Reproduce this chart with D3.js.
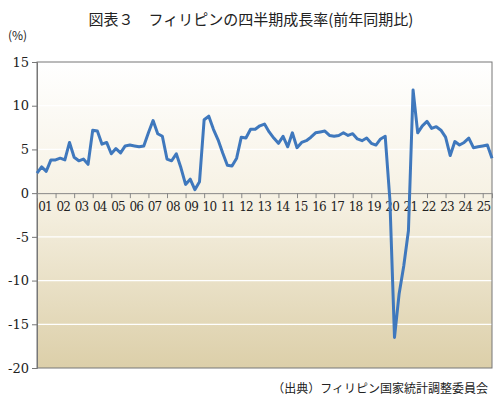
<!DOCTYPE html>
<html><head><meta charset="utf-8">
<script src="https://cdn.jsdelivr.net/npm/d3@7"></script>
<style>body{margin:0;background:#fff}</style>
</head><body>
<svg id="c" width="502" height="413"></svg>
<script>
// quarterly growth, 2001Q1 .. 2025Q3
const years = d3.range(2001, 2026)
const yearLabels = years.map(y => String(y % 100).padStart(2, "0"))
const growth = [
  2.3, 3.0, 2.5, 3.8,  3.8, 4.0, 3.8, 5.8,  4.1, 3.7, 3.9, 3.3,  7.2, 7.1, 5.6, 5.8,
  4.5, 5.1, 4.6, 5.4,  5.5, 5.4, 5.3, 5.4,  6.9, 8.3, 6.8, 6.5,  3.9, 3.7, 4.5, 2.9,
  1.0, 1.6, 0.4, 1.3,  8.4, 8.8, 7.3, 6.1,  4.6, 3.2, 3.1, 4.0,  6.4, 6.3, 7.3, 7.3,
  7.7, 7.9, 7.0, 6.3,  5.7, 6.5, 5.3, 6.9,  5.2, 5.8, 6.0, 6.4,  6.9, 7.0, 7.1, 6.6,
  6.5, 6.6, 6.9, 6.6,  6.8, 6.2, 6.0, 6.3,  5.7, 5.5, 6.2, 6.5,  -0.7, -16.5, -11.5, -8.3,
  -4.3, 11.8, 6.9, 7.7,  8.2, 7.4, 7.6, 7.2,  6.4, 4.3, 5.9, 5.5,  5.8, 6.3, 5.2, 5.3,
  5.4, 5.5, 4.0
]
const yTicks = [15, 10, 5, 0, -5, -10, -15, -20]

const svg = d3.select("#c")
const L = 37, R = 492, T = 62, B = 368

const x = d3.scaleLinear().domain([0, 98]).range([L, R])
const y = d3.scaleLinear().domain([-20, 15]).range([B, T])

const grad = svg.append("defs").append("linearGradient")
  .attr("id", "bg").attr("x1", 0).attr("y1", 0).attr("x2", 0).attr("y2", 1)
grad.append("stop").attr("offset", "0%").attr("stop-color", "#ffffff")
grad.append("stop").attr("offset", "45%").attr("stop-color", "#f6f1e3")
grad.append("stop").attr("offset", "100%").attr("stop-color", "#dccfa9")

svg.append("rect").attr("x", L).attr("y", T).attr("width", R - L).attr("height", B - T)
  .attr("fill", "url(#bg)")

// grid
svg.selectAll(".grid").data(yTicks.filter(d => d !== 15 && d !== -20 && d !== 0)).join("line")
  .attr("x1", L).attr("x2", R).attr("y1", d => y(d)).attr("y2", d => y(d))
  .attr("stroke", "#ffffff").attr("stroke-width", 1.2)

svg.append("rect").attr("x", L).attr("y", T).attr("width", R - L).attr("height", B - T)
  .attr("fill", "none").attr("stroke", "#777").attr("stroke-width", 1)

// y axis
const yAxis = svg.append("g").attr("transform", `translate(${L},0)`)
  .call(d3.axisLeft(y).tickValues(yTicks).tickSize(5).tickFormat(d => String(d)))
yAxis.select(".domain").attr("stroke", "#777")
yAxis.selectAll("line").attr("stroke", "#777")
yAxis.selectAll("text").attr("font-family", "DejaVu Serif").attr("font-size", 13).attr("fill", "#222")

// x axis at zero
const xAxis = svg.append("g").attr("transform", `translate(0,${y(0)})`)
  .call(d3.axisBottom(x).tickValues(d3.range(0, 100, 4)).tickSize(5).tickFormat(""))
xAxis.select(".domain").attr("stroke", "#888")
xAxis.selectAll("line").attr("stroke", "#888")
svg.selectAll(".yl").data(yearLabels).join("text")
  .attr("x", (d, i) => x(i * 4) + 8 - i * 0.3).attr("y", y(0) + 18)
  .attr("text-anchor", "middle").attr("font-family", "DejaVu Serif")
  .attr("font-size", 12).attr("letter-spacing", -0.8).attr("fill", "#222").text(d => d)

// line
svg.append("path").datum(growth)
  .attr("d", d3.line().x((d, i) => x(i)).y(d => y(d)))
  .attr("fill", "none").attr("stroke", "#3f78bd").attr("stroke-width", 3)
  .attr("stroke-linejoin", "round")

const jp = "Noto Sans CJK JP"
svg.append("text").attr("x", 251).attr("y", 25).attr("text-anchor", "middle")
  .attr("font-family", jp).attr("font-size", 15).attr("fill", "#222")
  .text("図表３　フィリピンの四半期成長率(前年同期比)")
svg.append("text").attr("x", 8).attr("y", 40).attr("font-family", jp)
  .attr("font-size", 12).attr("fill", "#222").text("(%)")
svg.append("text").attr("x", 488).attr("y", 393).attr("text-anchor", "end")
  .attr("font-family", jp).attr("font-size", 12).attr("fill", "#222")
  .text("（出典）フィリピン国家統計調整委員会")
</script>
</body></html>
